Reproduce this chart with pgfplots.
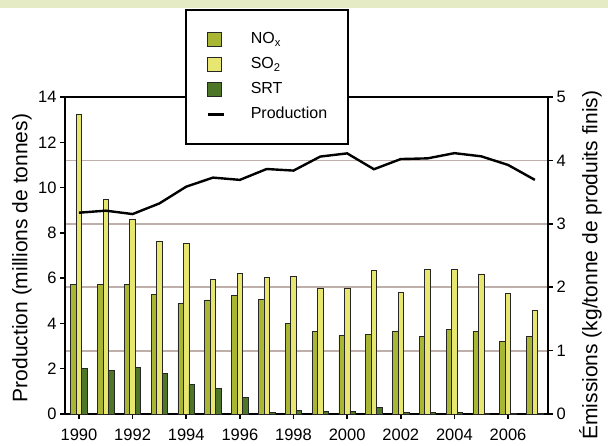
\documentclass[border=0pt]{standalone}
\usepackage{fontspec}
\setmainfont{Liberation Sans}
\usepackage{pgfplots}
\pgfplotsset{compat=1.18}
\definecolor{noxc}{RGB}{168,182,52}
\definecolor{so2c}{RGB}{230,230,112}
\definecolor{srtc}{RGB}{78,118,40}
\definecolor{gridc}{RGB}{190,175,170}
\definecolor{bandc}{RGB}{229,235,196}
\newcommand{\fs}[1]{\fontsize{#1}{#1}\selectfont}
\pgfplotsset{
  sqlegend/.style={legend image code/.code={\draw[##1] (0pt,-7pt) rectangle (14pt,7pt);}},
  lnlegend/.style={legend image code/.code={\draw[##1] (0pt,0pt) -- (16pt,0pt);}},
}
\begin{document}
\begin{tikzpicture}
\useasboundingbox (-65pt,-31pt) rectangle (543pt,414pt);
\fill[bandc] (-65pt,406pt) rectangle (543pt,414pt);
% Emissions axis (right), bars
\begin{axis}[
  scale only axis, width=483pt, height=317pt,
  at={(0,0)}, anchor=south west,
  xmin=1989.48, xmax=2007.49, ymin=0, ymax=5,
  axis line style={line width=1.8pt},
  xtick={1990,1992,...,2006},
  xticklabel={\pgfmathprintnumber[1000 sep={}]{\tick}},
  xticklabel style={yshift=-6pt},
  xtick pos=left,
  ytick={0,1,...,5},
  ytick pos=right, yticklabel pos=right,
  tick align=outside, major tick length=5pt,
  tick style={line width=1.5pt, black},
  /pgf/number format/assume math mode=true,
  tick label style={font=\fs{16.5}},
  ymajorgrids, grid style={gridc, line width=1.8pt},
  ylabel={Émissions (kg/tonne de produits finis)},
  ylabel style={font=\fs{21}, at={(axis description cs:1.088,0.47)}, anchor=center},
  legend style={
    at={(axis description cs:0.2484,1.2776)}, anchor=north west,
    draw=black, line width=1.8pt, fill=white,
    font=\fs{16},
    inner xsep=20.5pt, inner ysep=22pt,
    row sep=10pt,
    nodes={inner sep=0pt, text height=12pt, text depth=3pt},
    legend cell align=left,
    /tikz/every odd column/.style={column sep=26pt},
  },
]
\addplot[ybar, bar width=0.205, bar shift=-0.205, fill=noxc, draw=black!85, line width=0.7pt, sqlegend]
  coordinates {(1990,2.04) (1991,2.04) (1992,2.04) (1993,1.88) (1994,1.75) (1995,1.80)
  (1996,1.87) (1997,1.81) (1998,1.43) (1999,1.30) (2000,1.24) (2001,1.26) (2002,1.31)
  (2003,1.22) (2004,1.34) (2005,1.30) (2006,1.14) (2007,1.23)};
\addlegendentry{NO\textsubscript{x}}
\addplot[ybar, bar width=0.205, bar shift=0, fill=so2c, draw=black!85, line width=0.7pt, sqlegend]
  coordinates {(1990,4.73) (1991,3.38) (1992,3.07) (1993,2.73) (1994,2.69) (1995,2.12)
  (1996,2.22) (1997,2.15) (1998,2.17) (1999,1.98) (2000,1.98) (2001,2.27) (2002,1.92)
  (2003,2.28) (2004,2.28) (2005,2.21) (2006,1.90) (2007,1.64)};
\addlegendentry{SO\textsubscript{2}}
\addplot[ybar, bar width=0.205, bar shift=0.205, fill=srtc, draw=black!85, line width=0.7pt, sqlegend]
  coordinates {(1990,0.72) (1991,0.69) (1992,0.74) (1993,0.64) (1994,0.46) (1995,0.41)
  (1996,0.26) (1997,0.03) (1998,0.05) (1999,0.04) (2000,0.04) (2001,0.10) (2002,0.02)
  (2003,0.03) (2004,0.02) (2005,0.01) (2006,0.01) (2007,0.01)};
\addlegendentry{SRT}
\addlegendimage{black, line width=2.4pt, lnlegend}
\addlegendentry{Production}
\end{axis}
% Production axis (left), line
\begin{axis}[
  scale only axis, width=483pt, height=317pt,
  at={(0,0)}, anchor=south west,
  xmin=1989.48, xmax=2007.49, ymin=0, ymax=14,
  hide x axis,
  axis y line*=left,
  axis line style={line width=1.8pt},
  ytick={0,2,...,14},
  tick align=outside, major tick length=5pt,
  tick style={line width=1.5pt, black},
  /pgf/number format/assume math mode=true,
  tick label style={font=\fs{16.5}},
  ylabel={Production (millions de tonnes)},
  ylabel style={font=\fs{21}, at={(axis description cs:-0.089,0.492)}, anchor=center},
]
\addplot[black, line width=2.4pt, mark=none] coordinates {
  (1990,8.89) (1991,8.98) (1992,8.83) (1993,9.30) (1994,10.04) (1995,10.44)
  (1996,10.34) (1997,10.82) (1998,10.75) (1999,11.37) (2000,11.51) (2001,10.81)
  (2002,11.26) (2003,11.29) (2004,11.52) (2005,11.38) (2006,11.00) (2007,10.34)};
\end{axis}
\end{tikzpicture}
\end{document}
